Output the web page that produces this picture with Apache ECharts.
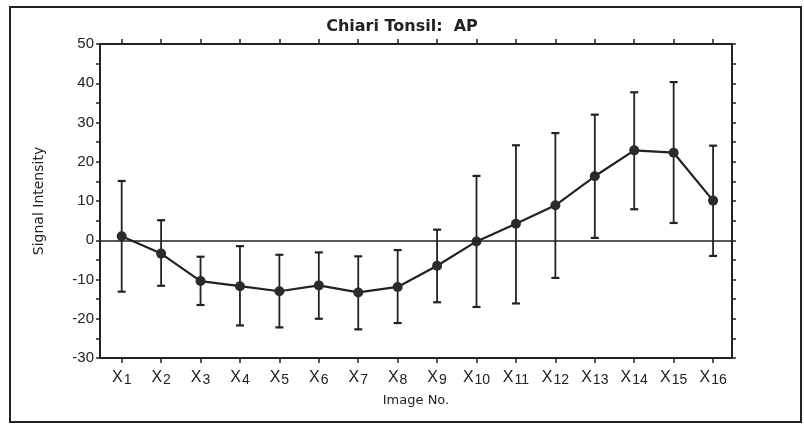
<!DOCTYPE html>
<html>
<head>
<meta charset="utf-8">
<script src="https://cdn.jsdelivr.net/npm/echarts@6/dist/echarts.min.js"></script>
<style>
  html, body { margin: 0; padding: 0; background: #fff; }
  #chart { width: 804px; height: 424px; }
</style>
</head>
<body>
<div id="chart"></div>
<script>
// Image numbers (drawn as X with a subscript index)
const imageNos = [1, 2, 3, 4, 5, 6, 7, 8, 9, 10, 11, 12, 13, 14, 15, 16];
// Mean signal intensity per image
const meanValues = [1.0, -3.4, -10.4, -11.7, -13.0, -11.5, -13.3, -11.9, -6.5, -0.3, 4.2, 8.9, 16.3, 22.9, 22.3, 10.1];
// Error bar upper and lower ends
const upperValues = [15.1, 5.1, -4.2, -1.5, -3.7, -3.1, -4.1, -2.5, 2.7, 16.4, 24.2, 27.3, 32.0, 37.7, 40.3, 24.1];
const lowerValues = [-13.1, -11.6, -16.5, -21.7, -22.2, -20.0, -22.7, -21.1, -15.8, -17.0, -16.1, -9.6, 0.6, 7.9, 4.4, -4.0];

const ink = '#222';
const font = 'Liberation Sans';
const nameFont = 'DejaVu Sans';

const chart = echarts.init(document.getElementById('chart'), null, { renderer: 'canvas' });

const lineData = imageNos.map((n, i) => [n, meanValues[i]]);
const errData = imageNos.map((n, i) => [n, lowerValues[i], upperValues[i]]);

chart.setOption({
  animation: false,
  backgroundColor: '#fff',
  title: {
    text: 'Chiari Tonsil:  AP',
    left: 'center',
    top: 14,
    textStyle: { fontFamily: 'DejaVu Sans', fontWeight: 'bold', fontSize: 16, color: ink }
  },
  graphic: [{
    type: 'rect',
    shape: { x: 10, y: 7, width: 791, height: 415 },
    style: { fill: 'none', stroke: ink, lineWidth: 2 },
    silent: true
  }],
  grid: { left: 100, right: 72, top: 44, bottom: 66 },
  xAxis: [{
    type: 'value',
    min: 0.45,
    max: 16.48,
    position: 'bottom',
    splitLine: { show: false },
    axisLine: { show: true, onZero: false, lineStyle: { color: ink, width: 2 } },
    axisTick: { show: true, customValues: imageNos, inside: false, length: 5, lineStyle: { color: ink, width: 1.5 } },
    axisLabel: {
      customValues: imageNos,
      margin: 12,
      color: ink,
      formatter: v => '{x|X}{s|' + v + '}',
      rich: {
        x: { fontFamily: font, fontSize: 16, color: ink, padding: [0, 1, 4, 0] },
        s: { fontFamily: font, fontSize: 14, color: ink }
      }
    },
    name: 'Image No.',
    nameLocation: 'middle',
    nameGap: 36,
    nameTextStyle: { fontFamily: nameFont, fontSize: 13, color: ink }
  }, {
    type: 'value',
    min: 0.45,
    max: 16.48,
    position: 'top',
    splitLine: { show: false },
    axisLine: { show: true, onZero: false, lineStyle: { color: ink, width: 2 } },
    axisTick: { show: true, customValues: imageNos, inside: false, length: 5, lineStyle: { color: ink, width: 1.5 } },
    axisLabel: { show: false }
  }],
  yAxis: [{
    type: 'value',
    min: -30,
    max: 50,
    interval: 10,
    position: 'left',
    splitLine: { show: false },
    axisLine: { show: true, onZero: false, lineStyle: { color: ink, width: 2 } },
    axisTick: { show: true, inside: false, length: 4, lineStyle: { color: ink, width: 1.5 } },
    minorTick: { show: true, splitNumber: 2, length: 4, lineStyle: { color: ink, width: 1.5 } },
    axisLabel: { color: ink, fontFamily: font, fontSize: 15, margin: 6 },
    name: 'Signal Intensity',
    nameLocation: 'middle',
    nameGap: 54,
    nameTextStyle: { fontFamily: nameFont, fontSize: 14, color: ink }
  }, {
    type: 'value',
    min: -30,
    max: 50,
    interval: 10,
    position: 'right',
    splitLine: { show: false },
    axisLine: { show: true, onZero: false, lineStyle: { color: ink, width: 2 } },
    axisTick: { show: true, inside: false, length: 4, lineStyle: { color: ink, width: 1.5 } },
    minorTick: { show: true, splitNumber: 2, length: 4, lineStyle: { color: ink, width: 1.5 } },
    axisLabel: { show: false }
  }],
  series: [{
    type: 'custom',
    name: 'range',
    xAxisIndex: 0,
    yAxisIndex: 0,
    data: errData,
    z: 2,
    renderItem: (params, api) => {
      const x = api.value(0);
      const lo = api.coord([x, api.value(1)]);
      const hi = api.coord([x, api.value(2)]);
      const cap = 4;
      const style = { stroke: ink, lineWidth: 1.8 };
      return {
        type: 'group',
        children: [
          { type: 'line', shape: { x1: lo[0], y1: lo[1], x2: hi[0], y2: hi[1] }, style },
          { type: 'line', shape: { x1: hi[0] - cap, y1: hi[1], x2: hi[0] + cap, y2: hi[1] }, style: { stroke: ink, lineWidth: 2.2 } },
          { type: 'line', shape: { x1: lo[0] - cap, y1: lo[1], x2: lo[0] + cap, y2: lo[1] }, style: { stroke: ink, lineWidth: 2.2 } }
        ]
      };
    }
  }, {
    type: 'line',
    name: 'mean',
    xAxisIndex: 0,
    yAxisIndex: 0,
    data: lineData,
    z: 3,
    symbol: 'circle',
    symbolSize: 10,
    itemStyle: { color: '#2b2b2b' },
    lineStyle: { color: ink, width: 2.2 },
    markLine: {
      silent: true,
      symbol: 'none',
      label: { show: false },
      lineStyle: { color: ink, width: 1.5, type: 'solid' },
      data: [{ yAxis: 0 }]
    }
  }]
});
</script>
</body>
</html>
